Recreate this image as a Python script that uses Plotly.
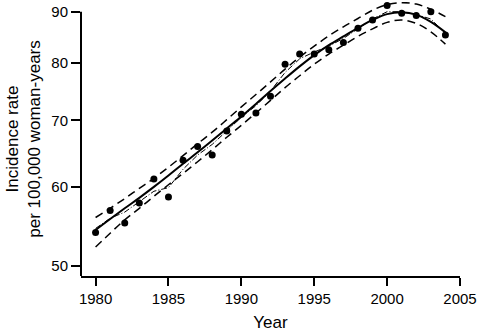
import plotly.graph_objects as go
import math

years = list(range(1980, 2005))
observed = [54.0, 56.8, 55.2, 57.8, 61.1, 58.6, 63.8, 65.9, 64.6, 68.3,
            71.0, 71.2, 74.0, 79.7, 81.6, 81.6, 82.4, 83.8, 86.6, 88.3,
            91.3, 89.7, 89.2, 90.0, 85.3]
fitted = [54.3, 55.7, 57.1, 58.5, 60.0, 61.6, 63.3, 65.0, 66.8, 68.7,
          70.6, 72.7, 74.9, 77.1, 79.3, 81.4, 83.3, 85.0, 86.7, 88.3,
          89.5, 89.9, 89.4, 87.9, 85.8]
upper = [55.9, 57.1, 58.4, 59.8, 61.2, 62.8, 64.5, 66.3, 68.1, 70.1,
         72.2, 74.3, 76.5, 78.8, 81.0, 83.1, 85.1, 86.9, 88.6, 90.3,
         91.5, 91.9, 91.6, 90.5, 89.0]
lower = [52.2, 53.9, 55.6, 57.1, 58.7, 60.3, 61.9, 63.6, 65.4, 67.3,
         69.2, 71.2, 73.3, 75.5, 77.6, 79.7, 81.6, 83.3, 85.0, 86.5,
         87.8, 88.3, 87.6, 85.9, 83.5]
smooth = [54.5, 55.8, 56.6, 58.0, 59.4, 59.9, 62.5, 64.6, 66.2, 68.3,
          70.5, 72.4, 74.9, 78.2, 80.7, 82.0, 83.1, 84.6, 86.5, 88.5,
          90.0, 90.0, 89.4, 88.5, 85.6]

y_ticks = [50, 60, 70, 80, 90]
x_ticks = [1980, 1985, 1990, 1995, 2000, 2005]

font_family = "Liberation Sans, Arial, Helvetica, sans-serif"

fig = go.Figure()
fig.add_trace(go.Scatter(x=years, y=smooth, mode="lines",
                         line=dict(color="black", width=1, dash="6px,2px,1px,2px"),
                         showlegend=False))
fig.add_trace(go.Scatter(x=years, y=upper, mode="lines",
                         line=dict(color="black", width=1.5, dash="8px,5px"),
                         line_shape="spline", showlegend=False))
fig.add_trace(go.Scatter(x=years, y=lower, mode="lines",
                         line=dict(color="black", width=1.5, dash="8px,5px"),
                         line_shape="spline", showlegend=False))
fig.add_trace(go.Scatter(x=years, y=fitted, mode="lines",
                         line=dict(color="black", width=2),
                         line_shape="spline", showlegend=False))
fig.add_trace(go.Scatter(x=years, y=observed, mode="markers",
                         marker=dict(color="black", size=7),
                         cliponaxis=False, showlegend=False))

ylo, yhi = 1.6886, 1.964
frac90 = (math.log10(90) - ylo) / (yhi - ylo)

fig.update_layout(
    template="none",
    width=482, height=334,
    margin=dict(l=81, r=22, t=2, b=58, autoexpand=False),
    paper_bgcolor="white", plot_bgcolor="white",
    font=dict(family=font_family, color="black", size=15),
    xaxis=dict(range=[1979, 2005], tickmode="array", tickvals=x_ticks,
               ticks="outside", ticklen=8, tickwidth=2, tickcolor="#000000",
               showline=True, linecolor="#000000", linewidth=2,
               layer="above traces",
               showgrid=False, zeroline=False, automargin=False,
               tickfont=dict(size=15),
               title=dict(text="Year", font=dict(size=17), standoff=10)),
    yaxis=dict(type="log", range=[ylo, yhi], tickmode="array", tickvals=y_ticks,
               ticks="outside", ticklen=9, tickwidth=2, tickcolor="#000000",
               showline=False, showgrid=False, zeroline=False,
               automargin=False,
               tickfont=dict(size=15),
               title=dict(text="Incidence rate<br>per 100,000 woman-years",
                          font=dict(size=17), standoff=6)),
    shapes=[dict(type="line", xref="paper", yref="paper",
                 x0=0, x1=0, y0=0, y1=frac90,
                 line=dict(color="black", width=2))],
)

fig.write_html("out.html",
               config={"displayModeBar": False},
               post_script="document.body.style.margin='0';document.body.style.overflow='hidden';")
